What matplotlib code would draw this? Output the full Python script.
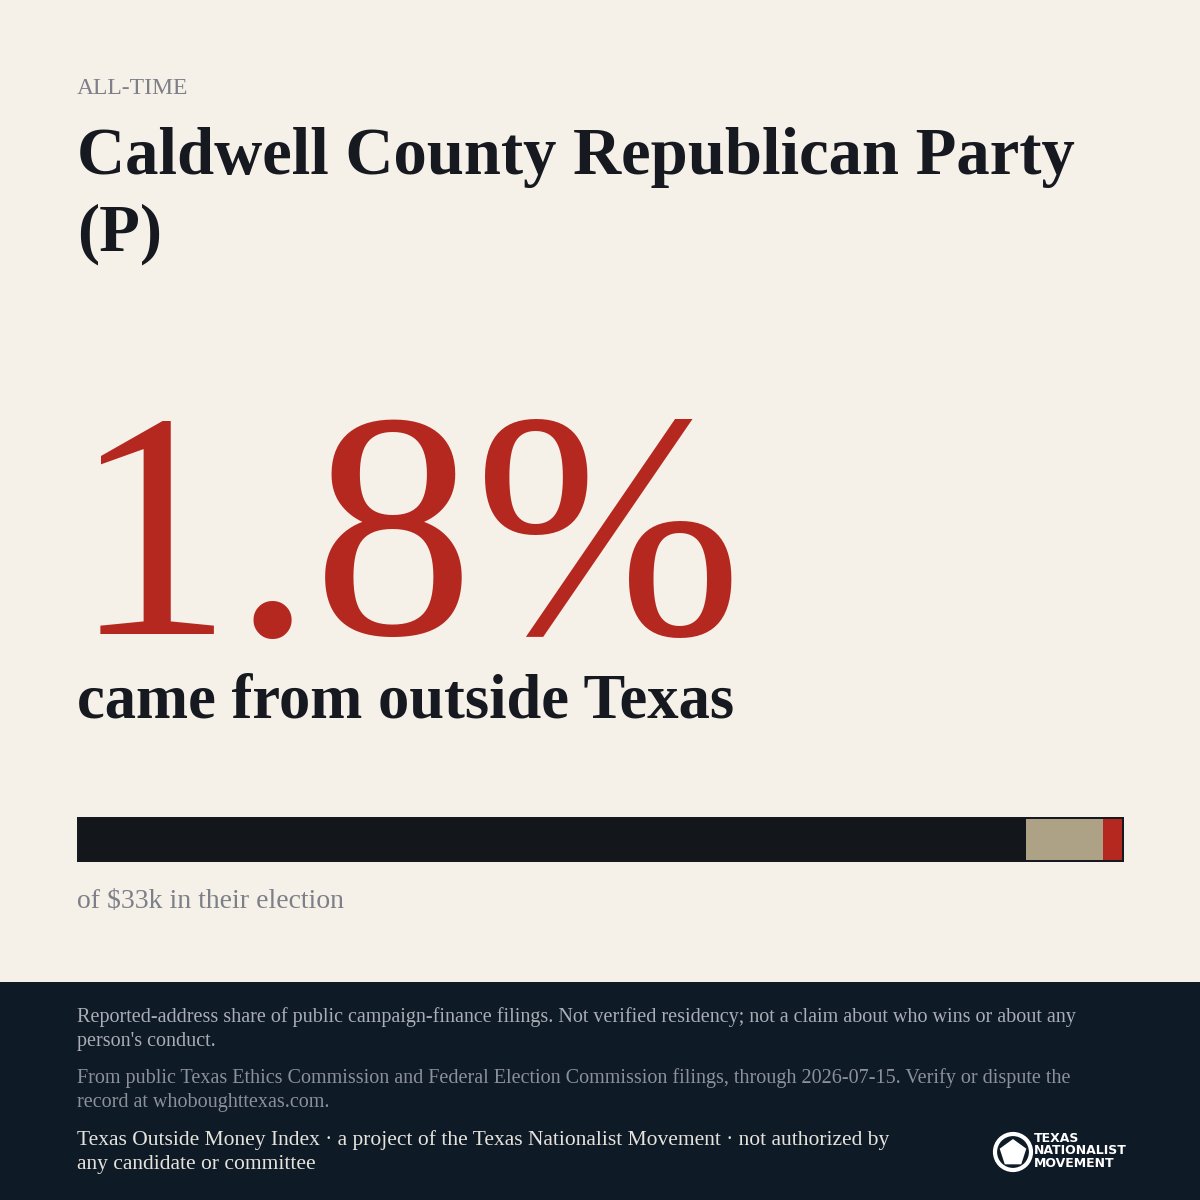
import matplotlib
matplotlib.use("Agg")
import matplotlib.pyplot as plt
from matplotlib.patches import Rectangle, Circle, RegularPolygon

eyebrow = "ALL-TIME"
title_lines = ["Caldwell County Republican Party", "(P)"]
headline_value = "1.8%"
headline_sub = "came from outside Texas"
segments = ["Texas", "Unknown", "Outside Texas"]
shares = [90.8, 7.4, 1.8]
seg_colors = ["#13161b", "#aea286", "#b52820"]
total_label = "of $33k in their election"
foot1 = "Reported-address share of public campaign-finance filings. Not verified residency; not a claim about who wins or about any\nperson's conduct."
foot2 = "From public Texas Ethics Commission and Federal Election Commission filings, through 2026-07-15. Verify or dispute the\nrecord at whoboughttexas.com."
foot3 = "Texas Outside Money Index · a project of the Texas Nationalist Movement · not authorized by\nany candidate or committee"

BG = "#f5f0e8"; NAVY = "#0f1a27"; INK = "#16191f"; RED = "#b52820"
fig = plt.figure(figsize=(12, 12), dpi=100, facecolor=BG)
ax = fig.add_axes([0, 0, 1, 1])
ax.set_xlim(0, 1200); ax.set_ylim(1200, 0); ax.axis("off")
serif = ["Liberation Serif", "DejaVu Serif"]

ax.text(77, 88, eyebrow, fontsize=17, color="#7d8088", family=serif, va="center")
ax.text(77, 157, title_lines[0], fontsize=48, color=INK, family=serif, weight="bold", va="center")
ax.text(77, 234, title_lines[1], fontsize=48, color=INK, family=serif, weight="bold", va="center")
ax.text(72, 634, headline_value, fontsize=232, color=RED, family=serif, va="baseline")
ax.text(77, 703, headline_sub, fontsize=45, color=INK, family=serif, weight="bold", va="center")

# bar
x0, x1, y0, h = 79, 1122, 819, 41
ax.add_patch(Rectangle((77, 817), 1047, 45, facecolor=INK, edgecolor="none"))
left = x0
for s, c in zip(shares, seg_colors):
    w = (x1 - x0) * s / sum(shares)
    ax.add_patch(Rectangle((left, y0), w, h, facecolor=c, edgecolor="none"))
    left += w
ax.text(77, 901, total_label, fontsize=20, color="#7d8088", family=serif, va="center")

# footer
ax.add_patch(Rectangle((0, 982), 1200, 218, facecolor=NAVY, edgecolor="none"))
ax.text(77, 1029, foot1, fontsize=14.5, color="#a9adb5", family=serif, va="center", linespacing=1.35)
ax.text(77, 1090, foot2, fontsize=14.5, color="#8b909a", family=serif, va="center", linespacing=1.35)
ax.text(77, 1152, foot3, fontsize=15.5, color="#e6e3dc", family=serif, va="center", linespacing=1.35)
# logo
ax.add_patch(Circle((1013, 1152), 18, facecolor="none", edgecolor="white", lw=3))
ax.add_patch(RegularPolygon((1013, 1153), 5, radius=14, orientation=3.14159, facecolor="white"))
ax.text(1034, 1151, "TEXAS\nNATIONALIST\nMOVEMENT", fontsize=9, color="white", weight="bold",
        family="DejaVu Sans", va="center", linespacing=0.95)

fig.savefig("out.png", dpi=100, facecolor=BG)
